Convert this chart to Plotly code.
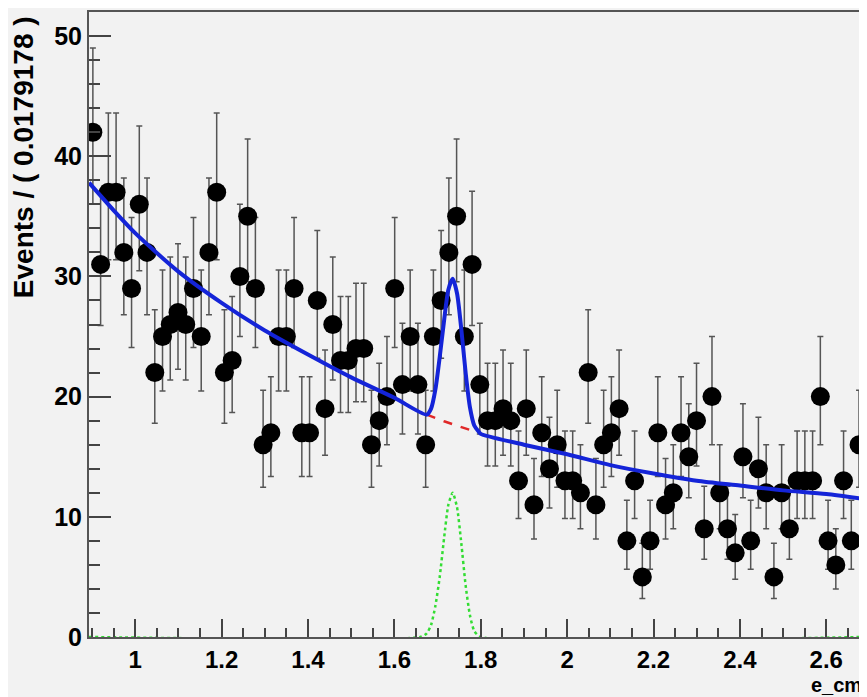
import numpy as np
import plotly.graph_objects as go

# ---- data ----
bin_low = 0.893
bin_width = 0.0179178
counts = [42, 31, 37, 37, 32, 29, 36, 32, 22, 25,
          26, 27, 26, 29, 25, 32, 37, 22, 23, 30,
          35, 29, 16, 17, 25, 25, 29, 17, 17, 28,
          19, 26, 23, 23, 24, 24, 16, 18, 20, 29,
          21, 25, 21, 16, 25, 28, 32, 35, 25, 31,
          21, 18, 18, 19, 18, 13, 19, 11, 17, 14,
          16, 13, 13, 12, 22, 11, 16, 17, 19, 8,
          13, 5, 8, 17, 11, 12, 17, 15, 18, 9,
          20, 12, 9, 7, 15, 8, 14, 12, 5, 12,
          9, 13, 13, 13, 20, 8, 6, 13, 8, 16]

total_x = [0.893, 0.95, 1.0, 1.1, 1.2, 1.3, 1.4, 1.5, 1.6, 1.675, 1.685, 1.695,
           1.705, 1.715, 1.725, 1.735, 1.745, 1.755, 1.765, 1.775, 1.785, 1.795,
           1.8, 1.9, 2.0, 2.1, 2.2, 2.3, 2.4, 2.5, 2.6, 2.685]
total_y = [37.8, 35.5, 33.6, 30.4, 27.8, 25.5, 23.5, 21.6, 19.9, 18.5, 19.0, 20.6,
           23.3, 26.3, 28.9, 29.8, 28.6, 25.6, 22.0, 19.1, 17.6, 17.1,
           16.9, 16.0, 15.2, 14.3, 13.6, 13.0, 12.6, 12.2, 11.9, 11.5]

bkg_x = [1.675, 1.695, 1.715, 1.735, 1.755, 1.775, 1.79]
bkg_y = [18.5, 18.2, 17.95, 17.7, 17.45, 17.2, 17.05]

sig_x = [0.893, 1.66, 1.675, 1.685, 1.695, 1.705, 1.715, 1.725, 1.735, 1.745,
         1.755, 1.765, 1.775, 1.785, 1.80, 2.685]
sig_y = [0.0, 0.0, 0.3, 1.0, 2.6, 5.0, 8.2, 11.0, 12.0, 10.8,
         7.8, 4.3, 1.8, 0.5, 0.0, 0.0]

x_tick_vals = [1.0, 1.2, 1.4, 1.6, 1.8, 2.0, 2.2, 2.4, 2.6]
x_tick_text = ["1", "1.2", "1.4", "1.6", "1.8", "2", "2.2", "2.4", "2.6"]
y_tick_vals = [0, 10, 20, 30, 40, 50]

# ---- derived ----
n = np.array(counts, dtype=float)
centers = bin_low + (np.arange(len(counts)) + 0.5) * bin_width
err_up = 0.5 + np.sqrt(n + 0.25)
err_dn = np.sqrt(n + 0.25) - 0.5

fig = go.Figure()

fig.add_trace(go.Scatter(
    x=sig_x, y=sig_y, mode="lines",
    line=dict(color="#33dd33", width=2.5, dash="dot", shape="spline", smoothing=0.6),
    hoverinfo="skip", showlegend=False))

fig.add_trace(go.Scatter(
    x=centers, y=n, mode="markers",
    marker=dict(color="black", size=19),
    error_y=dict(type="data", symmetric=False, array=err_up, arrayminus=err_dn,
                 color="#555555", thickness=1.5, width=3),
    showlegend=False))

fig.add_trace(go.Scatter(
    x=bkg_x, y=bkg_y, mode="lines", line=dict(color="#e02828", width=2.5, dash="dash"),
    showlegend=False))

fig.add_trace(go.Scatter(
    x=total_x, y=total_y, mode="lines",
    line=dict(color="#1424d8", width=4, shape="spline", smoothing=0.7),
    showlegend=False))

fig.update_xaxes(
    range=[0.893, 2.685], tickvals=x_tick_vals, ticktext=x_tick_text,
    ticks="inside", ticklen=18, tickwidth=1.5, tickcolor="#444",
    minor=dict(ticks="inside", ticklen=9, dtick=0.05, tick0=1.0, tickcolor="#444", tickwidth=1.5),
    showgrid=False, zeroline=False, showline=True, linecolor="#555", linewidth=2, mirror=True,
    tickfont=dict(family="Liberation Sans", size=24, color="black", weight="bold"))

fig.update_yaxes(
    range=[0, 52], tickvals=y_tick_vals,
    ticks="inside", ticklen=22, tickwidth=1.5, tickcolor="#444",
    minor=dict(ticks="inside", ticklen=11, dtick=2, tick0=0, tickcolor="#444", tickwidth=1.5),
    showgrid=False, zeroline=False, showline=True, linecolor="#555", linewidth=2, mirror=True,
    tickfont=dict(family="Liberation Sans", size=25, color="black", weight="bold"))

# plot area in window pixels: left 89, right 865, top 11, bottom 637
fig.add_annotation(
    text="Events / ( 0.0179178 )", textangle=-90, showarrow=False,
    xref="paper", yref="paper", x=(24 - 89) / 776, y=(637 - 13) / 626,
    xanchor="center", yanchor="top",
    font=dict(family="Liberation Sans", size=28, color="black", weight="bold"))

fig.add_annotation(
    text="e_cm", showarrow=False,
    xref="paper", yref="paper", x=(866 - 89) / 776, y=(637 - 685) / 626,
    xanchor="right", yanchor="middle",
    font=dict(family="Liberation Sans", size=20, color="black", weight="bold"))

# the page body has an 8px margin, so the figure starts at (8, 8) in the window
fig.update_layout(
    width=859, height=689,
    margin=dict(l=81, r=2, t=3, b=60),
    paper_bgcolor="#f2f2f2", plot_bgcolor="#f2f2f2",
    showlegend=False)

fig.write_html("out.html")
